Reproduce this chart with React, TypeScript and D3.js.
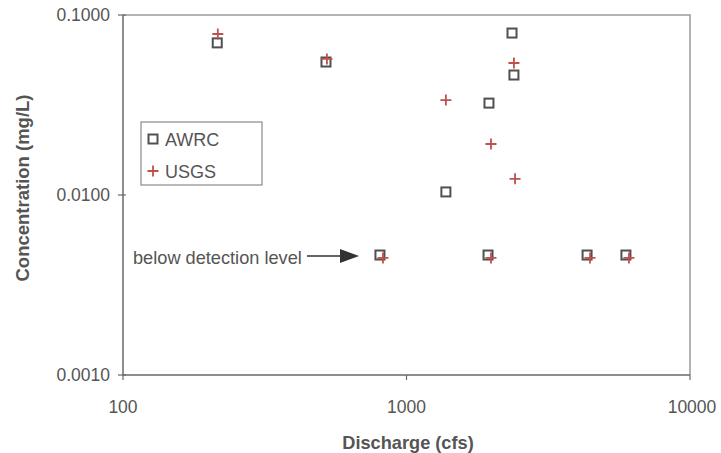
import React from "react";
import * as d3 from "d3";

const awrcDischarge = [215, 520, 2356, 2393, 1954, 1377, 806, 1939, 4335, 5943];
const awrcConc = [0.07, 0.0548, 0.0794, 0.0464, 0.0324, 0.0104, 0.00464, 0.00464, 0.00464, 0.00464];
const usgsDischarge = [216, 524, 1377, 1986, 2393, 2415, 826, 1986, 4440, 6090];
const usgsConc = [0.0784, 0.057, 0.0337, 0.0192, 0.0541, 0.0123, 0.00447, 0.00447, 0.00447, 0.00447];
const xTicks = [100, 1000, 10000];
const yTicks = [0.001, 0.01, 0.1];
const seriesNames = ["AWRC", "USGS"];

const W = 721, H = 453;
const L = 123, R = 690, T = 15, B = 375;
const FONT = "'Liberation Sans', Arial, sans-serif";
const TEXT = "#555";

export default function App() {
  const x = d3.scaleLog().domain([100, 10000]).range([L, R]);
  const y = d3.scaleLog().domain([0.001, 0.1]).range([B, T]);
  const sq = 9;
  const pl = 5.5;
  const sqColor = "#505050";
  const plColor = "#c0504d";
  const Square = ({ cx, cy }: { cx: number; cy: number }) => (
    <rect x={cx - sq / 2} y={cy - sq / 2} width={sq} height={sq} fill="none" stroke={sqColor} strokeWidth={2} />
  );
  const Plus = ({ cx, cy }: { cx: number; cy: number }) => (
    <path d={`M${cx - pl},${cy}H${cx + pl}M${cx},${cy - pl}V${cy + pl}`} stroke={plColor} strokeWidth={1.8} fill="none" />
  );
  return (
    <svg width={W} height={H} style={{ position: "absolute", left: 0, top: 0, background: "#fff" }} fontFamily={FONT}>
      <rect x={0} y={0} width={W} height={H} fill="#fff" />
      {/* frame */}
      <path d={`M${L},${T}H${R}V${B}`} fill="none" stroke="#9a9a9a" strokeWidth={1.5} />
      <path d={`M${L},${T}V${B}H${R}`} fill="none" stroke="#6a6a6a" strokeWidth={1.5} />
      {xTicks.map((t) => (
        <g key={"xt" + t}>
          <line x1={x(t)} x2={x(t)} y1={B} y2={B + 5} stroke="#6a6a6a" strokeWidth={1.2} />
          <text x={x(t) + (t === 10000 ? 2 : 0)} y={B + 38} textAnchor="middle" fontSize={17.5} fill={TEXT}>{t}</text>
        </g>
      ))}
      {yTicks.map((t) => (
        <g key={"yt" + t}>
          <line x1={L - 5} x2={L + 3} y1={y(t)} y2={y(t)} stroke="#6a6a6a" strokeWidth={1.2} />
          <text x={L - 13} y={y(t)} dy="0.35em" textAnchor="end" fontSize={17.5} fill={TEXT}>{t.toFixed(4)}</text>
        </g>
      ))}
      <text x={408} y={449} textAnchor="middle" fontSize={18.2} fontWeight="bold" fill={TEXT}>Discharge (cfs)</text>
      <text transform={`translate(29,188) rotate(-90)`} textAnchor="middle" fontSize={18.5} fontWeight="bold" fill={TEXT}>Concentration (mg/L)</text>

      {awrcDischarge.map((d, i) => (
        <Square key={"a" + i} cx={x(d)} cy={y(awrcConc[i])} />
      ))}
      {usgsDischarge.map((d, i) => (
        <Plus key={"u" + i} cx={x(d)} cy={y(usgsConc[i])} />
      ))}

      {/* legend */}
      <rect x={141} y={122} width={121} height={63} fill="#fff" stroke="#8a8a8a" strokeWidth={1.2} />
      <Square cx={153} cy={139} />
      <text x={165} y={140} dy="0.35em" fontSize={18} fill={TEXT}>{seriesNames[0]}</text>
      <Plus cx={153} cy={171} />
      <text x={165} y={172} dy="0.35em" fontSize={18} fill={TEXT}>{seriesNames[1]}</text>

      {/* annotation */}
      <text x={133} y={258} dy="0.35em" fontSize={18.2} fill={TEXT}>below detection level</text>
      <line x1={307} y1={256} x2={342} y2={256} stroke="#333" strokeWidth={1.5} />
      <path d="M340,249L359,256L340,263Z" fill="#333" />
    </svg>
  );
}
